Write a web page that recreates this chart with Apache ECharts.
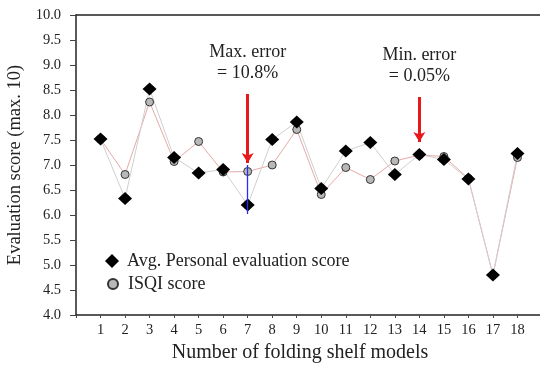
<!DOCTYPE html>
<html>
<head>
<meta charset="utf-8">
<script src="https://cdn.jsdelivr.net/npm/echarts@6/dist/echarts.min.js"></script>
<style>html,body{margin:0;padding:0;background:#fff}#c{width:540px;height:366px}</style>
</head>
<body>
<div id="c"></div>
<script>
const models = [1,2,3,4,5,6,7,8,9,10,11,12,13,14,15,16,17,18];
const avgPersonal = [7.52,6.33,8.52,7.15,6.84,6.91,6.20,7.51,7.86,6.53,7.28,7.45,6.81,7.21,7.11,6.72,4.80,7.23];
const isqi = [7.52,6.81,8.26,7.07,7.47,6.86,6.87,7.00,7.71,6.41,6.95,6.71,7.08,7.20,7.17,6.73,4.80,7.15];
const yTicks = [4.0,4.5,5.0,5.5,6.0,6.5,7.0,7.5,8.0,8.5,9.0,9.5,10.0];
const maxErrModel = 7, minErrModel = 14;
const errorBar = [6.02, 7.0];
const maxArrow = [8.42, 7.04];
const minArrow = [8.36, 7.46];
const maxLabel = 'Max. error\n= 10.8%';
const minLabel = 'Min. error\n= 0.05%';
const labelY = [9.04, 8.98];

const serif = 'Liberation Serif';
const chart = echarts.init(document.getElementById('c'));
const pair = (xs, ys) => xs.map((x, i) => [x, ys[i]]);

chart.setOption({
  animation: false,
  grid: {left: 76, right: -2, top: 15, bottom: 51, containLabel: false, outerBoundsMode: 'none'},
  legend: [
    {data: [{name: 'Avg. Personal evaluation score', icon: 'diamond'}], orient: 'vertical', left: 100, top: 247,
     itemWidth: 14, itemHeight: 14, textStyle: {fontFamily: serif, fontSize: 18, color: '#222', padding: [0,0,0,3]}},
    {data: [{name: 'ISQI score', icon: 'circle'}], orient: 'vertical', left: 102, top: 270,
     itemWidth: 10, itemHeight: 10, textStyle: {fontFamily: serif, fontSize: 18, color: '#222', padding: [0,0,0,5]}}
  ],
  xAxis: [{
    type: 'value', min: 0, max: 19, interval: 1,
    name: 'Number of folding shelf models', nameLocation: 'middle', nameGap: 26,
    nameTextStyle: {fontFamily: serif, fontSize: 20, color: '#222', padding: [0, 18, 0, 0]},
    axisLine: {show: true, onZero: false, lineStyle: {color: '#222', width: 1.5}},
    axisTick: {show: true, length: 3, lineStyle: {color: '#444'}},
    axisLabel: {fontFamily: serif, fontSize: 14.5, color: '#222', margin: 8,
      formatter: v => (models.indexOf(v) >= 0 ? String(v) : '')},
    splitLine: {show: false}
  }, {
    type: 'value', min: 0, max: 19, position: 'top',
    axisLine: {show: true, onZero: false, lineStyle: {color: '#222', width: 1.5}},
    axisTick: {show: false}, axisLabel: {show: false}, splitLine: {show: false}
  }],
  yAxis: {
    type: 'value', min: 4, max: 10, interval: 0.5,
    name: 'Evaluation score (max. 10)', nameLocation: 'middle', nameGap: 47,
    nameTextStyle: {fontFamily: serif, fontSize: 18.5, color: '#222'},
    axisLine: {show: true, onZero: false, lineStyle: {color: '#222', width: 1.5}},
    axisTick: {show: true, inside: false, length: 6, lineStyle: {color: '#444'}},
    axisLabel: {fontFamily: serif, fontSize: 14.5, color: '#222', margin: 15,
      formatter: v => (yTicks.indexOf(v) >= 0 ? v.toFixed(1) : '')},
    splitLine: {show: false}
  },
  series: [
    {
      name: 'error bar', type: 'line', data: [], silent: true,
      markLine: {silent: true, symbol: ['none','none'], label: {show: false},
        lineStyle: {color: '#2b2bff', width: 1.3, type: 'solid'},
        data: [[{coord: [maxErrModel, errorBar[0]]}, {coord: [maxErrModel, errorBar[1]]}]]}
    },
    {
      name: 'ISQI score', type: 'line', data: pair(models, isqi),
      symbol: 'circle', symbolSize: 8,
      itemStyle: {color: '#b8b8b8', borderColor: '#333', borderWidth: 1},
      lineStyle: {color: '#e8a8a8', width: 1}
    },
    {
      name: 'Avg. Personal evaluation score', type: 'line', data: pair(models, avgPersonal),
      symbol: 'diamond', symbolSize: [14, 13],
      itemStyle: {color: '#000', borderColor: '#000', borderWidth: 0},
      lineStyle: {color: '#cfcfcf', width: 1}
    },
    {
      name: 'annotations', type: 'line', data: [], silent: true,
      markLine: {silent: true, symbol: ['none','arrow'], symbolSize: [9, 10], label: {show: false},
        lineStyle: {color: '#e8191b', width: 3, type: 'solid'},
        data: [
          [{coord: [maxErrModel, maxArrow[0]]}, {coord: [maxErrModel, maxArrow[1]]}],
          [{coord: [minErrModel, minArrow[0]]}, {coord: [minErrModel, minArrow[1]]}]
        ]},
      markPoint: {silent: true, symbol: 'circle', symbolSize: 1, itemStyle: {color: 'rgba(0,0,0,0)'},
        label: {show: true, position: 'inside', fontFamily: serif, fontSize: 18, lineHeight: 21, color: '#222'},
        data: [
          {coord: [maxErrModel, labelY[0]], label: {formatter: maxLabel}},
          {coord: [minErrModel, labelY[1]], label: {formatter: minLabel}}
        ]}
    }
  ]
});
</script>
</body>
</html>
